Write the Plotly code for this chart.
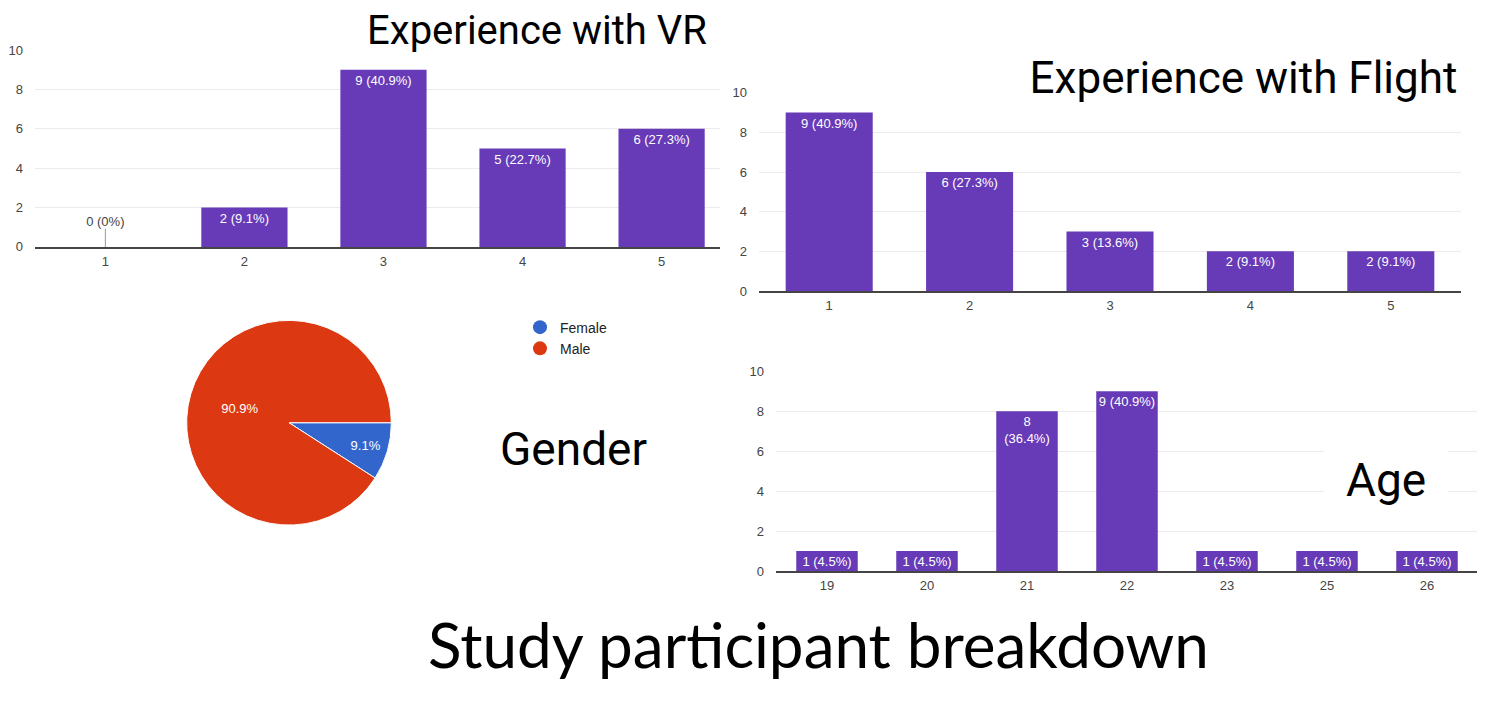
import plotly.graph_objects as go

# ---------------- data ----------------
vr_categories = ["1", "2", "3", "4", "5"]
vr_counts = [0, 2, 9, 5, 6]
vr_labels = ["0 (0%)", "2 (9.1%)", "9 (40.9%)", "5 (22.7%)", "6 (27.3%)"]

flight_categories = ["1", "2", "3", "4", "5"]
flight_counts = [9, 6, 3, 2, 2]
flight_labels = ["9 (40.9%)", "6 (27.3%)", "3 (13.6%)", "2 (9.1%)", "2 (9.1%)"]

age_categories = ["19", "20", "21", "22", "23", "25", "26"]
age_counts = [1, 1, 8, 9, 1, 1, 1]
age_labels = ["1 (4.5%)", "1 (4.5%)", "8<br>(36.4%)", "9 (40.9%)", "1 (4.5%)", "1 (4.5%)", "1 (4.5%)"]

gender_labels = ["Female", "Male"]
gender_counts = [2, 20]

y_ticks = [0, 2, 4, 6, 8, 10]

# ---------------- style ----------------
W, H = 1490, 725
PURPLE = "#673ab7"
GENDER_COLORS = ["#3366cc", "#dc3912"]
GRID = "#ebebeb"
SANS = "Liberation Sans, Arial, sans-serif"
TICKFONT = dict(family=SANS, size=13, color="#444444")
BARFONT = dict(family=SANS, size=13, color="white")


def fx(px):
    return px / W


def fy(py):
    return 1 - py / H


fig = go.Figure()


def add_bar_chart(cats, counts, labels, xa, ya, width):
    texts = [lab if c > 0 else "" for lab, c in zip(labels, counts)]
    fig.add_trace(go.Bar(
        x=cats, y=counts, text=texts, xaxis=xa, yaxis=ya,
        width=width, marker=dict(color=PURPLE, line=dict(width=0)),
        textposition="inside", insidetextanchor="end", constraintext="none",
        textangle=0, textfont=BARFONT, showlegend=False, hoverinfo="skip",
    ))
    zero_x = [c for c, v in zip(cats, counts) if v == 0]
    zero_y = [v for v in counts if v == 0]
    zero_t = [lab for lab, v in zip(labels, counts) if v == 0]
    if zero_x:
        fig.add_trace(go.Scatter(
            x=zero_x, y=zero_y, text=zero_t, mode="markers+text",
            textposition="top center", xaxis=xa, yaxis=ya, cliponaxis=True,
            marker=dict(symbol="line-ns", size=26, line=dict(width=1, color="#999999")),
            textfont=dict(family=SANS, size=13, color="#444444"),
            showlegend=False, hoverinfo="skip",
        ))


add_bar_chart(vr_categories, vr_counts, vr_labels, "x", "y", 0.62)
add_bar_chart(flight_categories, flight_counts, flight_labels, "x2", "y2", 0.62)
add_bar_chart(age_categories, age_counts, age_labels, "x3", "y3", 0.615)

# pie
fig.add_trace(go.Pie(
    labels=gender_labels, values=gender_counts, sort=False, direction="clockwise",
    rotation=90, marker=dict(colors=GENDER_COLORS, line=dict(color="white", width=1)),
    texttemplate="%{percent:.1%}", textposition="inside", insidetextorientation="horizontal",
    textfont=dict(family=SANS, size=13, color="white"),
    domain=dict(x=[fx(185), fx(393)], y=[fy(529), fy(320)]),
    showlegend=False, hoverinfo="skip",
))

# legend entries (circle markers)
for lab, col in zip(gender_labels, GENDER_COLORS):
    fig.add_trace(go.Scatter(
        x=[None], y=[None], mode="markers", name=lab, xaxis="x", yaxis="y",
        marker=dict(symbol="circle", size=14, color=col),
    ))


def xaxis_cfg(d0, d1, r0, r1, anchor):
    return dict(domain=[fx(d0), fx(d1)], range=[r0, r1], type="category", anchor=anchor,
                showgrid=False, zeroline=False, showline=True, linecolor="#444444", linewidth=1.5,
                tickfont=TICKFONT, ticks="", ticklabelstandoff=2, fixedrange=True)


def yaxis_cfg(bottom_px, top_px, anchor):
    return dict(domain=[fy(bottom_px), fy(top_px)], range=[0, 10], tickvals=y_ticks, anchor=anchor,
                showgrid=True, gridcolor=GRID, gridwidth=1, zeroline=False, showline=False,
                tickfont=TICKFONT, ticks="", ticklabelstandoff=11, fixedrange=True)


fig.update_layout(
    width=W, height=H, margin=dict(l=0, r=0, t=0, b=0),
    paper_bgcolor="white", plot_bgcolor="white",
    xaxis=xaxis_cfg(35, 720, -0.506, 4.42, "y"),
    yaxis=yaxis_cfg(245, 44, "x"),
    xaxis2=xaxis_cfg(759, 1461, -0.5, 4.5, "y2"),
    yaxis2=yaxis_cfg(290, 87.5, "x2"),
    xaxis3=xaxis_cfg(776, 1477, -0.51, 6.5, "y3"),
    yaxis3=yaxis_cfg(576, 372, "x3"),
    legend=dict(x=fx(520), y=fy(311), xanchor="left", yanchor="top",
                font=dict(family=SANS, size=14, color="#222222"),
                bgcolor="rgba(0,0,0,0)", tracegroupgap=0),
    showlegend=True,
)

fig.add_annotation(text="Experience with VR", x=fx(537), y=fy(23), xref="paper", yref="paper",
                   xanchor="center", yanchor="middle", showarrow=False,
                   font=dict(family="Roboto", size=40, color="black"),
                   bgcolor="white", width=362, height=52)
fig.add_annotation(text="Experience with Flight", x=fx(1243), y=fy(73), xref="paper", yref="paper",
                   xanchor="center", yanchor="middle", showarrow=False,
                   font=dict(family="Roboto", size=44, color="black"),
                   bgcolor="white", width=451, height=58)
fig.add_annotation(text="Gender", x=fx(573), y=fy(451), xref="paper", yref="paper",
                   xanchor="center", yanchor="middle", showarrow=False,
                   font=dict(family="Roboto", size=46, color="black"))
fig.add_annotation(text="Age", x=fx(1386), y=fy(483), xref="paper", yref="paper",
                   xanchor="center", yanchor="middle", showarrow=False,
                   font=dict(family="Roboto", size=46, color="black"),
                   bgcolor="white", width=120, height=92)
fig.add_annotation(text="Study participant breakdown", x=fx(818), y=fy(650), xref="paper", yref="paper",
                   xanchor="center", yanchor="middle", showarrow=False,
                   font=dict(family="Lato", size=62, color="black"))

fig.write_html("out.html", config={"displayModeBar": False},
               post_script="document.body.style.margin='0';document.body.style.overflow='hidden';")
